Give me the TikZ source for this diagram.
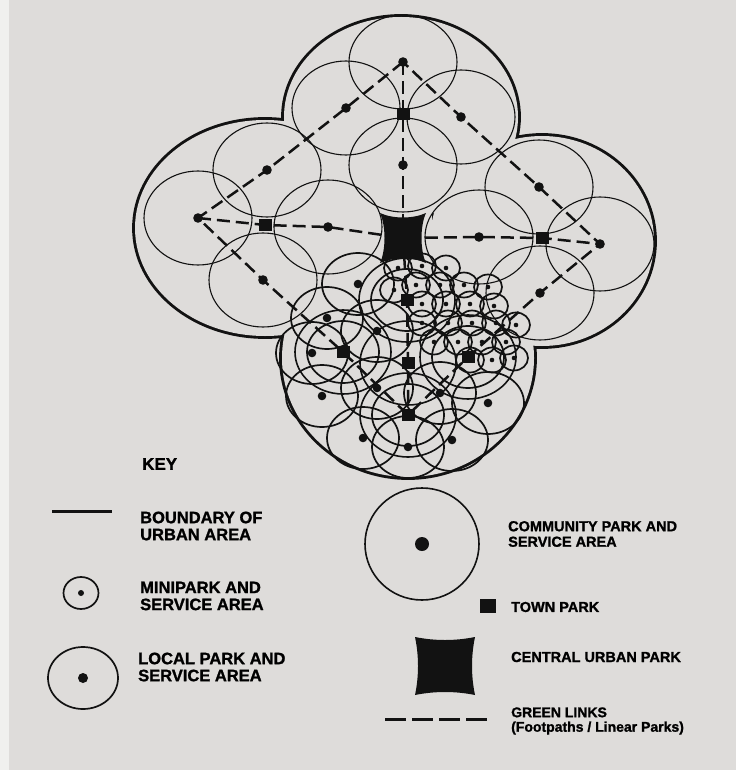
\documentclass[tikz,border=0pt]{standalone}
\usepackage{fontspec}
\setmainfont{Liberation Sans}[BoldFeatures={FakeBold=1.3}]
\definecolor{paper}{RGB}{222,220,218}
\definecolor{edge}{RGB}{240,240,238}
\definecolor{ink}{RGB}{18,18,18}

\tikzset{
  lobe/.style={line width=5.8pt, ink},
  ring/.style={line width=1.1pt, ink, x radius=54, y radius=47},
  smallring/.style={line width=1.7pt, ink, x radius=36, y radius=31},
  bigring/.style={line width=1.6pt, ink, x radius=48, y radius=42},
  miniring/.style={line width=1.7pt, ink, x radius=14, y radius=12.5},
  link/.style={line width=2.5pt, ink, dash pattern=on 13pt off 6pt},
  tpark/.style={fill=ink, minimum width=13pt, minimum height=12pt, inner sep=0pt},
  keytext/.style={font=\fontsize{16.5}{17}\selectfont\bfseries, align=left, anchor=west, inner sep=0pt},
  keytextr/.style={font=\fontsize{14.5}{15.5}\selectfont\bfseries, align=left, anchor=west, inner sep=0pt},
}

\begin{document}
\begin{tikzpicture}[x=1pt, y=-1pt]
\useasboundingbox (0,0) rectangle (736,770);
% paper
\fill[paper] (0,0) rectangle (736,770);
\fill[edge] (0,0) rectangle (9,770);

% urban area boundary (four lobes)
\foreach \cx/\cy/\rx/\ry in {401/117/117/100, 265/228/130/108, 542/241/112/105, 408/358/126/119}
  \draw[lobe] (\cx,\cy) ellipse[x radius=\rx, y radius=\ry];
\foreach \cx/\cy/\rx/\ry in {401/117/117/100, 265/228/130/108, 542/241/112/105, 408/358/126/119}
  \fill[paper] (\cx,\cy) ellipse[x radius=\rx, y radius=\ry];
\fill[paper] (376,200) rectangle (432,268);

% park centres
\coordinate (ntop) at (403,62);
\coordinate (nleft) at (198,218);
\coordinate (nright) at (600,244);
\coordinate (nbot) at (408,415);
\coordinate (hub) at (403,238);
\coordinate (tpN) at (403,114);
\coordinate (tpW) at (265,225);
\coordinate (tpE) at (542,238);
\coordinate (tpSW) at (343,352);
\coordinate (tpSE) at (468,357);
\coordinate (tpS1) at (407,300);
\coordinate (tpS2) at (408,363);
\coordinate (dN) at (403,165);
\coordinate (dNW) at (346,108);
\coordinate (dNE) at (461,117);
\coordinate (dW1) at (267,170);
\coordinate (dW2) at (328,227);
\coordinate (dW3) at (263,280);
\coordinate (dE1) at (539,187);
\coordinate (dE2) at (479,237);
\coordinate (dE3) at (540,293);

% local parks in the outer lobes
\foreach \n in {ntop,dNW,dNE,dN,dW1,nleft,dW3,dW2,dE1,nright,dE3,dE2}
  \draw[ring] (\n) circle[];

% local parks in the southern lobe
\foreach \n in {tpSW,tpSE,tpS2,nbot,tpS1}
  \draw[bigring] (\n) circle[];
\foreach \x/\y in {358/284, 327/318, 377/331, 312/353, 322/396, 377/388, 440/393, 488/403,
                   363/438, 408/447, 452/440, 343/352, 468/357, 408/415, 407/300}
  \draw[smallring] (\x,\y) circle[];
\foreach \x/\y in {358/284, 327/318, 377/331, 312/353, 322/396, 377/388, 440/393, 488/403,
                   363/438, 408/447, 452/440}
  \fill[ink] (\x,\y) circle[radius=4.3];

% miniparks
\foreach \x/\y in {398/268, 422/266, 446/268,
                   394/290, 416/285, 440/285, 464/285, 488/287,
                   422/304, 446/304, 470/304, 494/306,
                   422/323, 448/323, 472/323, 496/323, 516/325,
                   434/342, 458/342, 482/342, 506/342,
                   470/360, 492/360, 514/358} {
  \draw[miniring] (\x,\y) circle[];
  \fill[ink] (\x,\y) circle[radius=2.3];
}

% green links
\draw[link] (ntop) -- (dNW) -- (dW1) -- (nleft) -- (dW3) -- (tpSW) -- (nbot)
  -- (tpSE) -- (dE3) -- (nright) -- (dE1) -- (dNE) -- cycle;
\draw[link] (ntop) -- (tpN) -- (dN) -- (hub);
\draw[link] (nleft) -- (tpW) -- (dW2) -- (hub) -- (dE2) -- (tpE) -- (nright);
\draw[link] (hub) -- (tpS1) -- (tpS2) -- (nbot);

% dots and town parks
\foreach \n in {ntop,dNW,dNE,dN,dW1,nleft,dW3,dW2,dE1,nright,dE3,dE2}
  \fill[ink] (\n) circle[radius=4.8];
\foreach \n in {tpN,tpW,tpE,tpSW,tpSE,tpS1,tpS2,nbot}
  \node[tpark] (park-\n) at (\n) {};

% central urban park
\fill[ink] (380,213) .. controls (393,219) and (413,219) .. (426,213)
  .. controls (420,226) and (420,250) .. (426,263)
  .. controls (413,257) and (393,257) .. (380,263)
  .. controls (386,250) and (386,226) .. (380,213) -- cycle;

% key
\node[keytext, font=\fontsize{17}{18}\selectfont\bfseries] (keyhead) at (142,464) {KEY};

\draw[line width=3pt, ink] (52,511) -- (112,511);
\node[keytext] (boundarytext) at (140,526) {BOUNDARY OF\\URBAN AREA};

\draw[line width=1.7pt, ink] (81,593) ellipse[x radius=17.5, y radius=16];
\fill[ink] (81,593) circle[radius=3];
\node[keytext] (minitext) at (140,596) {MINIPARK AND\\SERVICE AREA};

\draw[line width=1.7pt, ink] (83,678) ellipse[x radius=35, y radius=31];
\fill[ink] (83,678) circle[radius=5];
\node[keytext] (localtext) at (138,667) {LOCAL PARK AND\\SERVICE AREA};

\draw[line width=1.6pt, ink] (422,544) ellipse[x radius=57, y radius=56];
\fill[ink] (422,544) circle[radius=7];
\node[keytextr] (commtext) at (508,534) {COMMUNITY PARK AND\\SERVICE AREA};

\node[tpark, minimum width=16pt, minimum height=14pt] (keytown) at (488,606) {};
\node[keytextr] (towntext) at (511,607) {TOWN PARK};

\fill[ink] (415,637) .. controls (435,641) and (455,641) .. (475,637)
  .. controls (471,656) and (471,676) .. (475,695)
  .. controls (455,691) and (435,691) .. (415,695)
  .. controls (419,676) and (419,656) .. (415,637) -- cycle;
\node[keytextr] (centraltext) at (511,657) {CENTRAL URBAN PARK};

\draw[line width=3pt, ink, dash pattern=on 21pt off 6pt] (385,719) -- (487,719);
\node[keytextr, font=\fontsize{14}{14.5}\selectfont\bfseries] (greentext) at (511,721) {GREEN LINKS\\(Footpaths / Linear Parks)};
\end{tikzpicture}
\end{document}
